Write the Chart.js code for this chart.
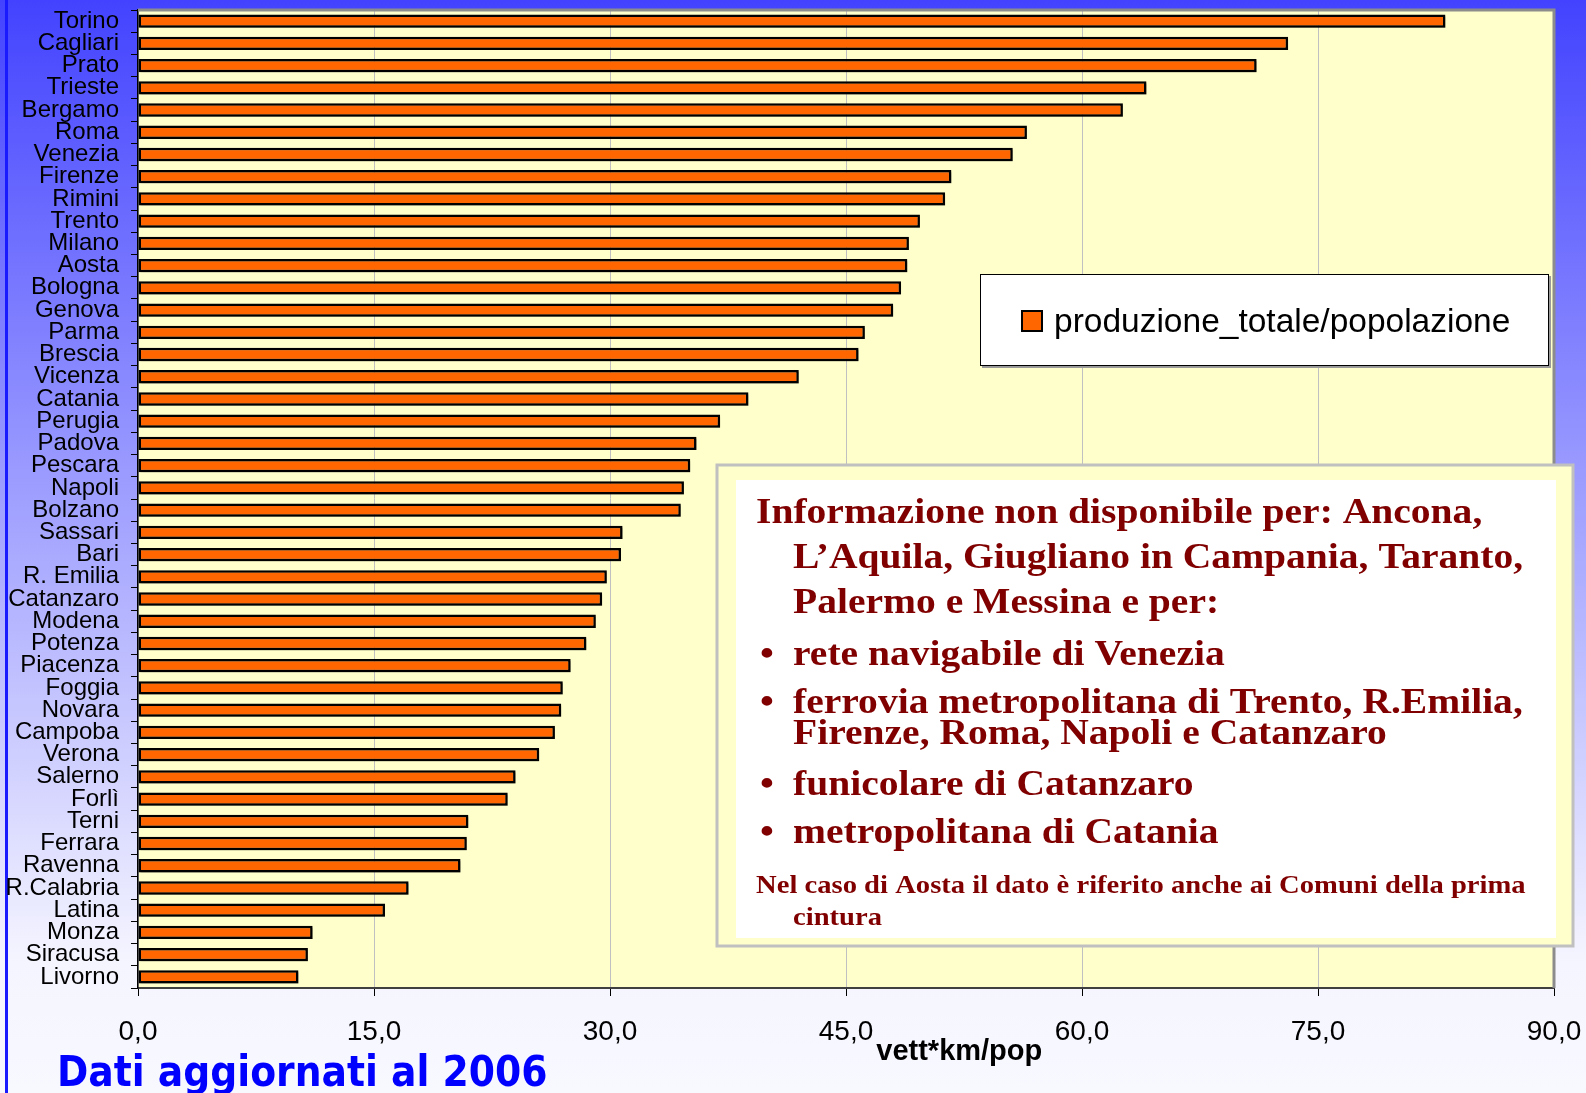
<!DOCTYPE html>
<html>
<head>
<meta charset="utf-8">
<script src="https://cdn.jsdelivr.net/npm/chart.js@4/dist/chart.umd.min.js"></script>
<style>
  html, body { margin: 0; padding: 0; }
  body {
    width: 1586px; height: 1093px; overflow: hidden; position: relative;
    background: linear-gradient(to bottom, #4343ff 0%, #f5f5ff 88%, #f8f8ff 100%);
    font-family: 'Liberation Sans', Arial, sans-serif;
  }
  .edge { position: absolute; left: 5px; top: 0; width: 3px; height: 1093px; background: #1a1aff; }
  .chartBox { position: absolute; left: 0; top: 0; width: 1586px; height: 1093px; }
  #customLegend {
    position: absolute; left: 980px; top: 274px; width: 567px; height: 90px;
    background: #fff; border: 1px solid #000; box-shadow: 2px 2px 0 #9a9a9a;
  }
  #customLegend ul { list-style: none; margin: 0; padding: 0; }
  #customLegend li { position: relative; }
  #customLegend span {
    position: absolute; left: 40px; top: 35px; width: 18px; height: 18px;
    border: 2px solid #000;
  }
  #customLegend p {
    position: absolute; left: 73px; top: 29px; margin: 0;
    font-size: 33.5px; line-height: 1; color: #000; white-space: nowrap;
  }
</style>
</head>
<body>
<div class="edge"></div>
<div class="chartBox"><canvas id="myChart"></canvas></div>
<script>
const cities = ['Torino', 'Cagliari', 'Prato', 'Trieste', 'Bergamo', 'Roma', 'Venezia', 'Firenze', 'Rimini', 'Trento',
  'Milano', 'Aosta', 'Bologna', 'Genova', 'Parma', 'Brescia', 'Vicenza', 'Catania', 'Perugia', 'Padova',
  'Pescara', 'Napoli', 'Bolzano', 'Sassari', 'Bari', 'R. Emilia', 'Catanzaro', 'Modena', 'Potenza', 'Piacenza',
  'Foggia', 'Novara', 'Campoba', 'Verona', 'Salerno', 'Forlì', 'Terni', 'Ferrara', 'Ravenna', 'R.Calabria',
  'Latina', 'Monza', 'Siracusa', 'Livorno'];
const productionPerPop = [83.1, 73.1, 71.1, 64.1, 62.6, 56.5, 55.6, 51.7, 51.3, 49.7,
  49.0, 48.9, 48.5, 48.0, 46.2, 45.8, 42.0, 38.8, 37.0, 35.5,
  35.1, 34.7, 34.5, 30.8, 30.7, 29.8, 29.5, 29.1, 28.5, 27.5,
  27.0, 26.9, 26.5, 25.5, 24.0, 23.5, 21.0, 20.9, 20.5, 17.2,
  15.7, 11.1, 10.8, 10.2];
const xTicks = [0, 15, 30, 45, 60, 75, 90];
const seriesName = 'produzione_totale/popolazione';
const axisTitle = 'vett*km/pop';
const footerText = 'Dati aggiornati al 2006';
const noteLines = [
  ['Informazione non disponibile per: Ancona,', 0, 523, 35, false],
  ['L\u2019Aquila, Giugliano in Campania, Taranto,', 37, 568, 35, false],
  ['Palermo e Messina e per:', 37, 613, 35, false],
  ['rete navigabile di Venezia', 37, 665, 35, true],
  ['ferrovia metropolitana di Trento, R.Emilia,', 37, 713, 35, true],
  ['Firenze, Roma, Napoli e Catanzaro', 37, 744, 35, false],
  ['funicolare di Catanzaro', 37, 795, 35, true],
  ['metropolitana di Catania', 37, 843, 35, true],
  ['Nel caso di Aosta il dato \u00e8 riferito anche ai Comuni della prima', 0, 893, 25, false],
  ['cintura', 37, 925, 25, false]
];

// plot background + frame
const plotBg = {
  id: 'plotBg',
  beforeDraw(chart) {
    const {ctx, chartArea: a} = chart;
    ctx.save();
    ctx.fillStyle = '#ffffcc';
    ctx.fillRect(a.left, a.top, a.width, a.height);
    ctx.restore();
  },
  afterDraw(chart) {
    const {ctx, chartArea: a} = chart;
    ctx.save();
    ctx.strokeStyle = '#8c8c8c';
    ctx.lineWidth = 3;
    ctx.beginPath();
    ctx.moveTo(a.left, a.top);
    ctx.lineTo(a.right, a.top);
    ctx.lineTo(a.right, a.bottom);
    ctx.stroke();
    ctx.restore();
  }
};

const barShadow = {
  id: 'barShadow',
  beforeDatasetsDraw(chart) {
    const c = chart.ctx;
    c.save();
    c.shadowColor = 'rgba(0,0,0,0.35)';
    c.shadowOffsetX = 2;
    c.shadowOffsetY = 2;
    c.shadowBlur = 2;
  },
  afterDatasetsDraw(chart) {
    chart.ctx.restore();
  }
};

function stretchText(ctx, text, x, y, sx) {
  ctx.save();
  ctx.translate(x, y);
  ctx.scale(sx, 1);
  ctx.fillText(text, 0, 0);
  ctx.restore();
}

// axis title, note box, footer
const annotations = {
  id: 'annotations',
  afterDraw(chart) {
    const {ctx, chartArea: a} = chart;
    ctx.save();
    ctx.fillStyle = '#000';
    ctx.font = 'bold 29px "Liberation Sans", Arial, sans-serif';
    ctx.textAlign = 'center';
    ctx.textBaseline = 'alphabetic';
    ctx.fillText(axisTitle, a.left + a.width * 0.58, 1060);

    // note box
    ctx.fillStyle = '#ffffcc';
    ctx.fillRect(717, 465, 856, 481);
    ctx.strokeStyle = '#c0c0c0';
    ctx.lineWidth = 3;
    ctx.strokeRect(717, 465, 856, 481);
    ctx.fillStyle = '#ffffff';
    ctx.fillRect(736, 480, 820, 458);

    ctx.textAlign = 'left';
    ctx.fillStyle = '#800000';
    const left = 756;
    noteLines.forEach(([text, indent, y, size, bullet]) => {
      const sx = size < 30 ? 1.145 : 1.13;
      ctx.font = 'bold ' + size + 'px "Liberation Serif", "Times New Roman", serif';
      if (bullet) stretchText(ctx, '\u2022', left + 4, y, sx);
      stretchText(ctx, text, left + indent, y, sx);
    });

    // footer
    ctx.fillStyle = '#0000ff';
    ctx.font = 'bold 43.5px "DejaVu Sans", Verdana, sans-serif';
    stretchText(ctx, footerText, 57, 1086, 0.867);
    ctx.restore();
  }
};

const data = {
  labels: cities,
  datasets: [{
    label: seriesName,
    data: productionPerPop,
    backgroundColor: '#ff6600',
    borderColor: '#000000',
    borderWidth: 2.5,
    borderSkipped: false,
    barPercentage: 0.6,
    categoryPercentage: 1
  }]
};

const config = {
  type: 'bar',
  data,
  options: {
    indexAxis: 'y',
    responsive: true,
    maintainAspectRatio: false,
    animation: false,
    layout: { padding: { left: 0, right: 32, top: 10, bottom: 0 } },
    scales: {
      x: {
        min: 0,
        max: 90,
        afterFit(scale) {
          scale.height = 105;
          scale.paddingLeft = 0;
          scale.paddingRight = 0;
        },
        afterBuildTicks(scale) { scale.ticks = xTicks.map(v => ({ value: v })); },
        grid: { color: '#c0c0c0', lineWidth: 1, tickColor: '#000', tickLength: 8 },
        border: { color: '#404040', width: 2 },
        ticks: {
          color: '#000',
          padding: 19,
          maxRotation: 0,
          font: { family: '"Liberation Sans", Arial, sans-serif', size: 28 },
          callback: v => v.toFixed(1).replace('.', ',')
        }
      },
      y: {
        afterFit(scale) {
          scale.width = 138;
          scale.paddingTop = 0;
          scale.paddingBottom = 0;
        },
        grid: { drawOnChartArea: false, offset: true, tickColor: '#000', tickLength: 7, tickWidth: 1 },
        border: { color: '#000', width: 1.5 },
        ticks: {
          color: '#000',
          padding: 12,
          autoSkip: false,
          font: { family: '"Liberation Sans", Arial, sans-serif', size: 24 }
        }
      }
    },
    plugins: { //custom legend instead
      legend: { display: false },
      tooltip: { enabled: false }
    }
  },
  plugins: [plotBg, barShadow, annotations]
};

const myChart = new Chart(
  document.getElementById('myChart'),
  config
);

//Legend
function generateLegend() {
  const chartBox = document.querySelector('.chartBox');
  const div = document.createElement('DIV');
  div.setAttribute('id', 'customLegend');
  const ul = document.createElement('UL');

  myChart.data.datasets.forEach((dataset) => {
    const li = document.createElement('LI');
    const spanBox = document.createElement('SPAN');
    spanBox.style.backgroundColor = dataset.backgroundColor;
    spanBox.style.borderColor = dataset.borderColor;
    const p = document.createElement('P');
    p.appendChild(document.createTextNode(dataset.label));
    li.appendChild(spanBox);
    li.appendChild(p);
    ul.appendChild(li);
  });
  div.appendChild(ul);
  chartBox.appendChild(div);
}

generateLegend();
</script>
</body>
</html>
